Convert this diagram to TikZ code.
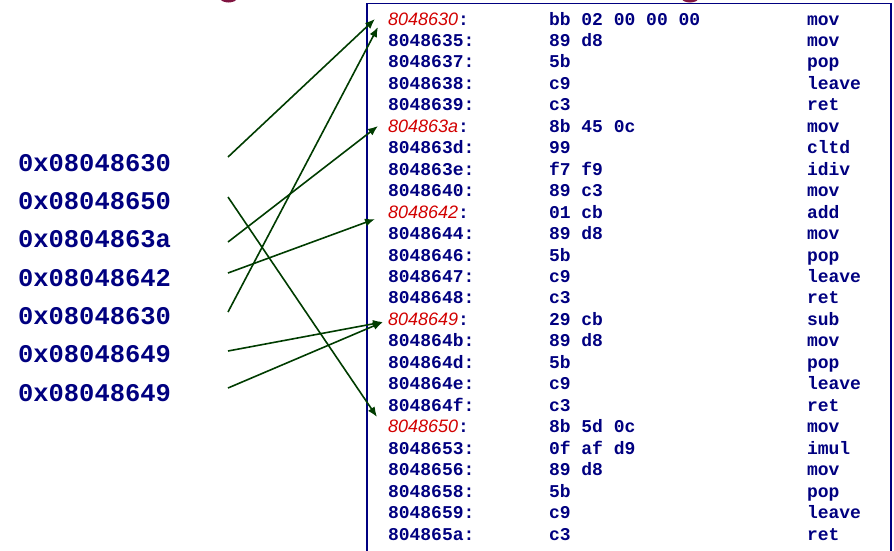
\documentclass[tikz,border=0pt]{standalone}
\usepackage{fontspec}
\setmonofont{Liberation Mono}
\newfontfamily\addrfont{Liberation Sans}
\usetikzlibrary{arrows.meta}
\definecolor{navy}{RGB}{0,0,128}
\definecolor{addrred}{RGB}{210,0,0}
\definecolor{arrowgreen}{RGB}{0,60,0}
\definecolor{titlemaroon}{RGB}{128,20,64}
\tikzset{
  cell/.style={anchor=base west, inner sep=0pt, outer sep=0pt, text=navy, font=\fontsize{18}{18}\selectfont\ttfamily\bfseries},
  biglabel/.style={anchor=base west, inner sep=0pt, outer sep=0pt, text=navy, font=\fontsize{25.5}{25.5}\selectfont\ttfamily\bfseries},
  jumparrow/.style={draw=arrowgreen, line width=1.6pt, -{Latex[length=10pt,width=8pt]}},
  boxline/.style={draw=navy, line width=1.2pt}
}
\newcommand\asmrow[4]{%
  \node[cell] (a#1) at (388,{25+21.46*(#1-1)}) {#2};
  \node[cell] (b#1) at (549,{25+21.46*(#1-1)}) {#3};
  \node[cell] (m#1) at (807,{25+21.46*(#1-1)}) {#4};
}
\newcommand\redaddr[1]{{\addrfont\itshape\color{addrred}\mdseries #1}:}
\begin{document}
\begin{tikzpicture}[x=1pt,y=-1pt]
\useasboundingbox (0,0) rectangle (894,550);
\clip (0,0) rectangle (894,550);
% title fragments
\fill[titlemaroon] (228.5,-2) ellipse (8.5 and 4.5);
\fill[titlemaroon] (690,-2) ellipse (8.5 and 4.5);
% box
\draw[boxline] (367,560) -- (367,3.5) -- (891,3.5) -- (891,560);
% rows
\asmrow{1}{\redaddr{8048630}}{bb 02 00 00 00}{mov}
\asmrow{2}{8048635:}{89 d8}{mov}
\asmrow{3}{8048637:}{5b}{pop}
\asmrow{4}{8048638:}{c9}{leave}
\asmrow{5}{8048639:}{c3}{ret}
\asmrow{6}{\redaddr{804863a}}{8b 45 0c}{mov}
\asmrow{7}{804863d:}{99}{cltd}
\asmrow{8}{804863e:}{f7 f9}{idiv}
\asmrow{9}{8048640:}{89 c3}{mov}
\asmrow{10}{\redaddr{8048642}}{01 cb}{add}
\asmrow{11}{8048644:}{89 d8}{mov}
\asmrow{12}{8048646:}{5b}{pop}
\asmrow{13}{8048647:}{c9}{leave}
\asmrow{14}{8048648:}{c3}{ret}
\asmrow{15}{\redaddr{8048649}}{29 cb}{sub}
\asmrow{16}{804864b:}{89 d8}{mov}
\asmrow{17}{804864d:}{5b}{pop}
\asmrow{18}{804864e:}{c9}{leave}
\asmrow{19}{804864f:}{c3}{ret}
\asmrow{20}{\redaddr{8048650}}{8b 5d 0c}{mov}
\asmrow{21}{8048653:}{0f af d9}{imul}
\asmrow{22}{8048656:}{89 d8}{mov}
\asmrow{23}{8048658:}{5b}{pop}
\asmrow{24}{8048659:}{c9}{leave}
\asmrow{25}{804865a:}{c3}{ret}
% jump table labels
\node[biglabel] (l1) at (18,171) {0x08048630};
\node[biglabel] (l2) at (18,209.3) {0x08048650};
\node[biglabel] (l3) at (18,247.7) {0x0804863a};
\node[biglabel] (l4) at (18,286) {0x08048642};
\node[biglabel] (l5) at (18,324.3) {0x08048630};
\node[biglabel] (l6) at (18,362.7) {0x08048649};
\node[biglabel] (l7) at (18,401) {0x08048649};
% arrow ends
\coordinate (s1) at (228,157);
\coordinate (s2) at (228,197);
\coordinate (s3) at (228,242);
\coordinate (s4) at (228,273);
\coordinate (s5) at (228,312);
\coordinate (s6) at (228,351);
\coordinate (s7) at (228,388);
\coordinate (t1) at (375,19);
\coordinate (t2) at (377,417);
\coordinate (t3) at (378,126);
\coordinate (t4) at (375,219);
\coordinate (t5) at (378,27);
\coordinate (t6) at (383,322);
\coordinate (t7) at (383,322);
\foreach \k in {1,...,7} { \draw[jumparrow] (s\k) -- (t\k); }
\end{tikzpicture}
\end{document}
